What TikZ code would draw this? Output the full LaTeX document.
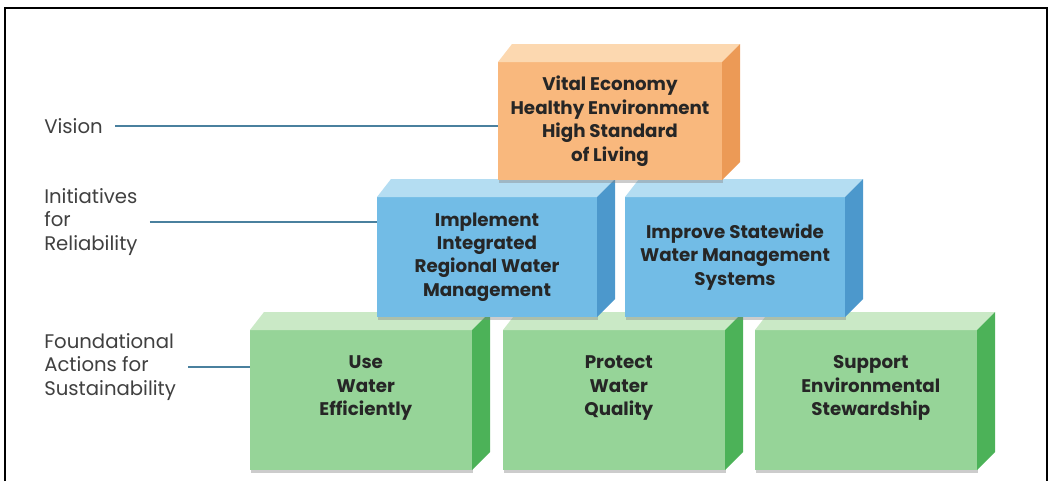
\documentclass[tikz,border=0pt]{standalone}
\usepackage{fontspec}
\setmainfont{Poppins}
\usetikzlibrary{positioning,shadows}

\definecolor{frontorange}{RGB}{249,184,125}
\definecolor{toporange}{RGB}{252,216,176}
\definecolor{sideorange}{RGB}{236,154,86}
\definecolor{frontblue}{RGB}{114,188,230}
\definecolor{topblue}{RGB}{180,221,242}
\definecolor{sideblue}{RGB}{76,152,204}
\definecolor{frontgreen}{RGB}{150,212,152}
\definecolor{topgreen}{RGB}{202,233,198}
\definecolor{sidegreen}{RGB}{76,178,88}
\definecolor{linkblue}{RGB}{74,128,158}

\begin{document}
\begin{tikzpicture}[
  face/.style={inner sep=0pt, outer sep=0pt, align=center, text=black!85,
    font=\bfseries\fontsize{13}{16.7}\selectfont,
    drop shadow={shadow xshift=0.03cm, shadow yshift=-0.07cm, opacity=0.4}},
  orangebox/.style={face, fill=frontorange, minimum width=5.6cm, minimum height=2.95cm},
  bluebox/.style={face, fill=frontblue, minimum width=5.5cm, minimum height=3cm},
  greenbox/.style={face, fill=frontgreen, minimum width=5.55cm, minimum height=3.5cm},
  boxtext/.style={align=center, inner sep=0pt, text=black!85, font=\bfseries\fontsize{13}{16.7}\selectfont},
  tier/.style={anchor=west, align=left, inner sep=0pt, text=black!75, font=\fontsize{14}{17}\selectfont},
  link/.style={line width=0.06cm, draw=linkblue}
]
\useasboundingbox (0,0) rectangle (26.45,12.025);
\draw[line width=0.04cm] (0.125,0) -- (0.125,11.825) -- (26.175,11.825) -- (26.175,0);

% foundational actions
\node[greenbox] (use) at (9.025,2.025) {};
\node[greenbox] (protect) at (15.35,2.025) {};
\node[greenbox] (support) at (21.65,2.025) {};
\node[boxtext] (useTxt) at ([shift={(0.12,0.3)}]use.center) {Use\\Water\\Efficiently};
\node[boxtext] (protectTxt) at ([shift={(0.12,0.3)}]protect.center) {Protect\\Water\\Quality};
\node[boxtext] (supportTxt) at ([shift={(0.12,0.3)}]support.center) {Support\\Environmental\\Stewardship};
\foreach \n/\c in {use/green,protect/green,support/green} {
  \fill[top\c] (\n.north west) -- ++(0.35,0.45) -- ([shift={(0.45,0.45)}]\n.north east) -- (\n.north east) -- cycle;
  \fill[side\c] (\n.north east) -- ++(0.45,0.45) -- ([shift={(0.45,0.45)}]\n.south east) -- (\n.south east) -- cycle;
}

% initiatives
\node[bluebox] (irwm) at (12.175,5.6) {Implement\\Integrated\\Regional Water\\Management};
\node[bluebox] (sws) at (18.375,5.6) {Improve Statewide\\Water Management\\Systems};
\foreach \n/\c in {irwm/blue,sws/blue} {
  \fill[top\c] (\n.north west) -- ++(0.35,0.45) -- ([shift={(0.45,0.45)}]\n.north east) -- (\n.north east) -- cycle;
  \fill[side\c] (\n.north east) -- ++(0.45,0.45) -- ([shift={(0.45,0.45)}]\n.south east) -- (\n.south east) -- cycle;
}

% vision
\node[orangebox] (eco) at (15.25,9.0) {Vital Economy\\Healthy Environment\\High Standard\\of Living};
\foreach \n/\c in {eco/orange} {
  \fill[top\c] (\n.north west) -- ++(0.35,0.45) -- ([shift={(0.45,0.45)}]\n.north east) -- (\n.north east) -- cycle;
  \fill[side\c] (\n.north east) -- ++(0.45,0.45) -- ([shift={(0.45,0.45)}]\n.south east) -- (\n.south east) -- cycle;
}

% tier labels
\node[tier] (vision) at (1.1,8.875) {Vision};
\node[tier] (initiatives) at (1.1,6.475) {Initiatives\\for\\Reliability};
\node[tier] (foundational) at (1.1,2.85) {Foundational\\Actions for\\Sustainability};

\draw[link] ([xshift=0.3cm]vision.east) -- (vision.east -| eco.west);
\draw[link] ([xshift=0.3cm]initiatives.east) -- (initiatives.east -| irwm.west);
\draw[link] ([xshift=0.3cm]foundational.east) -- (foundational.east -| use.west);
\end{tikzpicture}
\end{document}
